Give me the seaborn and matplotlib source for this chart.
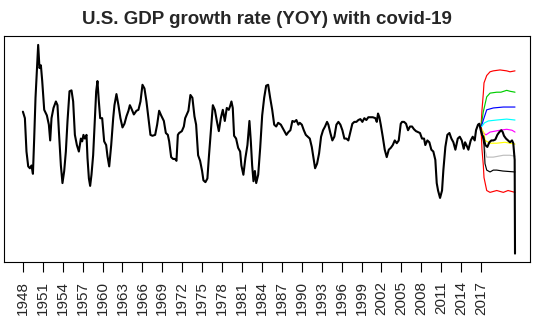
import matplotlib
matplotlib.use("Agg")
import matplotlib.pyplot as plt
import seaborn as sns
import pandas as pd

obs_year = [1948.00, 1948.30, 1948.54, 1948.80, 1949.05, 1949.29, 1949.51, 1949.70, 1949.90, 1950.11,
            1950.30, 1950.50, 1950.71, 1950.91, 1951.21, 1951.61, 1951.91, 1952.11, 1952.31, 1952.61,
            1952.97, 1953.21, 1953.42, 1953.72, 1953.96, 1954.22, 1954.47, 1954.72, 1955.02, 1955.32,
            1955.57, 1955.83, 1956.13, 1956.43, 1956.73, 1956.93, 1957.12, 1957.33, 1957.58, 1957.73,
            1957.94, 1958.13, 1958.33, 1958.58, 1958.84, 1959.04, 1959.23, 1959.44, 1959.64, 1959.94,
            1960.24, 1960.54, 1960.74, 1961.00, 1961.30, 1961.60, 1961.79, 1962.09, 1962.39, 1962.69,
            1963.00, 1963.30, 1963.60, 1963.90, 1964.11, 1964.31, 1964.71, 1965.10, 1965.40, 1965.71,
            1966.01, 1966.31, 1966.61, 1966.91, 1967.21, 1967.51, 1967.92, 1968.22, 1968.52, 1968.82,
            1969.23, 1969.53, 1969.83, 1970.03, 1970.33, 1970.63, 1970.93, 1971.13, 1971.34, 1971.53,
            1971.94, 1972.24, 1972.44, 1972.74, 1972.93, 1973.23, 1973.53, 1973.84, 1974.09, 1974.39,
            1974.69, 1974.99, 1975.19, 1975.49, 1975.79, 1976.00, 1976.31, 1976.61, 1976.91, 1977.21,
            1977.51, 1977.81, 1978.11, 1978.41, 1978.71, 1979.01, 1979.21, 1979.41, 1979.61, 1979.81,
            1980.11, 1980.42, 1980.72, 1980.91, 1981.21, 1981.51, 1981.82, 1982.12, 1982.33, 1982.53,
            1982.73, 1982.94, 1983.14, 1983.44, 1983.74, 1984.04, 1984.34, 1984.64, 1984.94, 1985.24,
            1985.55, 1985.85, 1986.15, 1986.45, 1986.85, 1987.30, 1987.69, 1987.99, 1988.29, 1988.59,
            1988.89, 1989.19, 1989.49, 1989.70, 1990.01, 1990.31, 1990.61, 1990.91, 1991.21, 1991.51,
            1991.81, 1992.01, 1992.31, 1992.61, 1992.91, 1993.21, 1993.51, 1993.81, 1994.01, 1994.31,
            1994.61, 1994.91, 1995.22, 1995.52, 1995.82, 1996.12, 1996.42, 1996.72, 1997.02, 1997.32,
            1997.62, 1997.92, 1998.23, 1998.53, 1998.83, 1999.13, 1999.43, 1999.73, 2000.03, 2000.29,
            2000.69, 2001.09, 2001.30, 2001.49, 2001.69, 2001.90, 2002.20, 2002.50, 2002.80, 2003.11,
            2003.41, 2003.71, 2004.01, 2004.31, 2004.61, 2004.91, 2005.11, 2005.41, 2005.71, 2006.01,
            2006.31, 2006.61, 2006.91, 2007.21, 2007.51, 2007.81, 2008.11, 2008.42, 2008.61, 2008.92,
            2009.22, 2009.52, 2009.82, 2010.12, 2010.33, 2010.53, 2010.83, 2011.13, 2011.33, 2011.63,
            2011.93, 2012.24, 2012.54, 2012.84, 2013.14, 2013.50, 2013.80, 2014.10, 2014.40, 2014.60,
            2014.80, 2015.10, 2015.45, 2015.75, 2016.05, 2016.25, 2016.55, 2016.74, 2016.96, 2017.15,
            2017.35, 2017.65, 2017.95, 2018.26, 2018.56, 2018.86, 2019.16, 2019.46, 2019.76, 2020.06,
            2020.27, 2020.46, 2020.76, 2021.07, 2021.37, 2021.67, 2021.86, 2022.07, 2022.12]
obs_value = [6.2, 5.5, 1.9, 0.3, 0.1, 0.4, -0.5, 3.3, 7.7, 10.6,
             13.4, 10.9, 11.2, 9.5, 6.4, 5.8, 4.8, 3.1, 5.5, 6.6,
             7.3, 6.9, 4.1, 0.4, -1.5, -0.2, 1.9, 5.2, 8.4, 8.5,
             7.3, 3.7, 2.6, 1.9, 3.3, 3.0, 3.7, 3.3, 3.7, 1.2,
             -1.0, -1.8, -0.6, 1.5, 5.5, 8.4, 9.5, 7.3, 5.5, 5.5,
             3.0, 2.6, 1.4, 0.3, 2.6, 5.5, 6.9, 8.1, 6.9, 5.5,
             4.5, 4.9, 5.7, 6.3, 6.9, 6.6, 5.9, 6.3, 6.4, 7.3,
             9.1, 8.7, 7.3, 5.5, 3.7, 3.6, 3.7, 4.8, 6.3, 5.8,
             5.2, 3.9, 3.7, 3.0, 1.3, 1.1, 1.1, 0.9, 3.7, 3.9,
             4.1, 4.6, 5.5, 6.0, 6.3, 8.0, 7.7, 5.7, 4.8, 1.5,
             0.9, -0.2, -1.2, -1.4, -1.0, 1.2, 4.1, 6.9, 6.4, 5.2,
             4.1, 5.5, 6.4, 5.2, 6.6, 6.4, 6.8, 7.3, 6.6, 3.6,
             3.3, 2.3, 1.9, 0.4, -0.6, 1.2, 2.6, 5.2, 3.0, 0.4,
             -1.3, -0.2, -1.5, -0.6, 2.3, 5.8, 7.7, 9.0, 9.1, 7.7,
             6.4, 4.8, 4.6, 5.0, 4.8, 4.2, 3.7, 4.0, 4.2, 5.2,
             5.1, 5.3, 4.8, 5.0, 4.8, 4.2, 3.7, 3.5, 3.3, 2.4,
             1.0, 0.1, 0.6, 1.7, 3.5, 4.2, 4.6, 5.1, 4.8, 3.9,
             3.1, 3.5, 4.8, 5.1, 4.8, 4.2, 3.3, 3.3, 3.1, 4.0,
             4.9, 5.1, 5.1, 5.3, 5.4, 5.1, 5.5, 5.3, 5.6, 5.6,
             5.6, 5.5, 5.1, 6.0, 5.6, 4.8, 3.5, 2.1, 1.3, 2.1,
             2.3, 2.6, 3.1, 2.8, 3.1, 4.9, 5.1, 5.1, 4.9, 4.2,
             4.6, 4.6, 4.3, 4.1, 4.0, 3.9, 3.3, 3.3, 2.6, 3.1,
             2.9, 2.1, 1.9, 1.0, -1.5, -2.3, -3.1, -2.3, -0.1, 2.4,
             3.7, 3.9, 3.3, 2.9, 2.1, 3.3, 3.5, 3.1, 2.2, 2.9,
             2.6, 2.1, 3.1, 3.5, 3.1, 4.2, 4.8, 4.9, 4.2, 3.7,
             3.5, 2.6, 2.4, 2.9, 3.1, 3.1, 3.2, 3.7, 4.0, 4.2,
             4.0, 3.6, 3.3, 3.1, 2.9, 3.1, 2.8, 1.0, -9.1]

# ---- forecast quantile paths ----
red_hi_year = [2017.00, 2017.15, 2017.35, 2017.45, 2017.86, 2018.36, 2018.85, 2019.86, 2020.87, 2021.37, 2022.12]
red_hi_value = [4.5, 6.4, 8.2, 9.3, 10.1, 10.5, 10.6, 10.7, 10.6, 10.5, 10.6]
green_year = [2017.00, 2017.35, 2017.86, 2018.36, 2019.37, 2020.00, 2020.87, 2021.37, 2022.12]
green_value = [4.5, 6.2, 7.8, 8.2, 8.3, 8.3, 8.5, 8.4, 8.3]
blue_year = [2017.00, 2017.35, 2017.86, 2018.36, 2018.85, 2020.36, 2022.12]
blue_value = [4.5, 5.3, 6.4, 6.5, 6.6, 6.7, 6.7]
cyan_year = [2017.00, 2017.53, 2018.11, 2019.37, 2020.87, 2022.12]
cyan_value = [4.5, 5.0, 5.2, 5.3, 5.4, 5.3]
magenta_year = [2017.00, 2017.35, 2017.75, 2018.36, 2019.86, 2020.87, 2021.67, 2022.12]
magenta_value = [4.5, 3.9, 3.7, 4.0, 4.2, 4.3, 4.2, 4.0]
yellow_year = [2017.00, 2017.45, 2017.60, 2018.36, 2019.37, 2020.60, 2022.12]
yellow_value = [4.5, 3.9, 3.1, 2.8, 2.8, 2.9, 2.7]
grey_year = [2017.00, 2017.45, 2017.60, 2017.86, 2018.85, 2020.36, 2021.37, 2022.12]
grey_value = [4.5, 3.1, 2.1, 1.3, 1.3, 1.5, 1.5, 1.4]
black_lo_year = [2017.00, 2017.45, 2017.60, 2017.86, 2018.36, 2018.85, 2019.37, 2020.30, 2022.12]
black_lo_value = [4.5, 2.6, 0.6, -0.1, -0.3, -0.1, -0.1, -0.2, -0.3]
red_lo_year = [2017.00, 2017.15, 2017.35, 2017.45, 2017.86, 2018.36, 2019.37, 2019.86, 2020.36, 2021.07, 2022.12]
red_lo_value = [4.5, 2.1, 0.4, -0.9, -2.3, -2.5, -2.3, -2.4, -2.5, -2.3, -2.5]

tick_years = list(range(1948, 2018, 3))
title = "U.S. GDP growth rate (YOY) with covid-19"

sns.set_style("white")
plt.rcParams["font.family"] = ["Liberation Sans", "DejaVu Sans"]

fig = plt.figure(figsize=(5.4, 3.26), dpi=100)
ax = fig.add_axes([0.0065, 0.1954, 0.975, 0.6942])

fans = [
    (red_hi_year, red_hi_value, "#FF0000"),
    (green_year, green_value, "#00CD00"),
    (blue_year, blue_value, "#0000FF"),
    (cyan_year, cyan_value, "#00FFFF"),
    (magenta_year, magenta_value, "#FF00FF"),
    (yellow_year, yellow_value, "#FFFF00"),
    (grey_year, grey_value, "#BEBEBE"),
    (black_lo_year, black_lo_value, "#000000"),
    (red_lo_year, red_lo_value, "#FF0000"),
]
for yrs, vals, col in fans:
    sns.lineplot(x=yrs, y=vals, ax=ax, color=col, linewidth=0.85, estimator=None, sort=False)

obs = pd.DataFrame({"year": obs_year, "value": obs_value})
sns.lineplot(data=obs, x="year", y="value", ax=ax, color="black", linewidth=1.5,
             estimator=None, sort=False)

ax.set_xlim(1945.08, 2024.38)
ax.set_ylim(-10.04, 14.36)
ax.set_xticks(tick_years)
ax.set_xticklabels([str(y) for y in tick_years], rotation=90, fontsize=11)
ax.set_yticks([])
ax.set_xlabel("")
ax.set_ylabel("")
ax.tick_params(axis="x", bottom=True, length=7, width=0.8, pad=6.5, color="black")
for s in ax.spines.values():
    s.set_visible(True)
    s.set_color("black")
    s.set_linewidth(0.8)

fig.text(266.7 / 540, 1 - 24.5 / 326, title, ha="center", va="baseline",
         fontsize=13.5, fontweight="bold")

fig.savefig("out.png", dpi=100)
